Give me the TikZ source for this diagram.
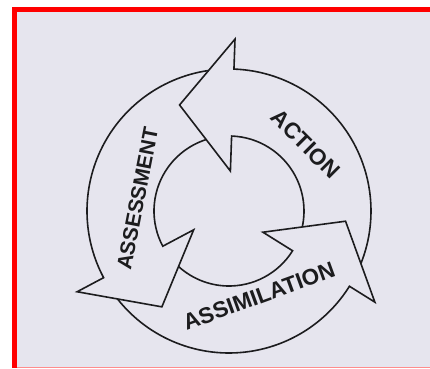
\documentclass[tikz,border=0pt]{standalone}
\usepackage{fontspec}
\setmainfont{Liberation Sans}
\usepackage{xcolor}
\definecolor{paper}{RGB}{230,229,238}
\definecolor{frame}{RGB}{255,0,0}
\definecolor{ink}{RGB}{28,28,30}

\tikzset{
  cycle line/.style={ink, line width=1.6pt, line join=miter},
  stage label/.style={font=\fontsize{21}{21}\selectfont\bfseries, text=ink, inner sep=0pt},
  wide label/.style={stage label, font=\fontsize{22.5}{22.5}\selectfont\bfseries}
}

\begin{document}
\begin{tikzpicture}[x=1pt, y=1pt]
  \useasboundingbox (-229,-157) rectangle (201,211);
  % page and scan frame
  \fill[white] (-229,-157) rectangle (201,211);
  \fill[frame] (-217,-157) rectangle (201,204);
  \fill[paper] (-212,-157) rectangle (201,199);
  \fill[frame!45] (-212,-157) rectangle (201,-155.8);

  % three curved arrows, each tail tucked under the previous head
  \foreach \b in {88,208,328}{
    \draw[cycle line] ({\b-109.7}:142) arc[start angle={\b-109.7}, end angle=\b, radius=142]
      -- (\b:172) -- ({\b+27}:117) -- (\b:40) -- (\b:75)
      arc[start angle=\b, end angle={\b-100.3}, radius=75];
  }

  \node[wide label, rotate=-45] (action) at (76.5,67) {ACTION};
  \node[stage label, rotate=79] (assessment) at (-91.5,12.5) {ASSESSMENT};
  \node[wide label, rotate=20] (assimilation) at (30,-85) {ASSIMILATION};
\end{tikzpicture}
\end{document}
